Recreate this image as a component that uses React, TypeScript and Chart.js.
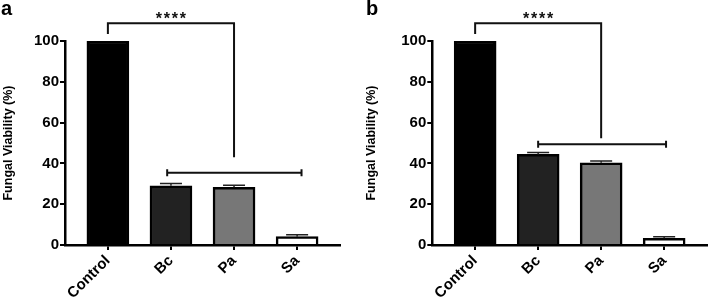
import React, { useEffect, useRef } from "react";
import { Chart, registerables } from "chart.js";
Chart.register(...registerables);

const categories = ["Control", "Bc", "Pa", "Sa"];
const yTickValues = [0, 20, 40, 60, 80, 100];
const viabilityA = [100, 29.0, 28.3, 4.1];
const errorA = [0, 1.2, 1.0, 0.9];
const viabilityB = [100, 44.4, 40.3, 3.3];
const errorB = [0, 1.0, 0.9, 0.8];
const barColors = ["#000000", "#222222", "#777777", "#ffffff"];
// significance brackets (data units): [xLeft, xRight, yTop, yLeftEnd, yRightEnd]
const upperBracketA = [0, 2, 108.7, 103.4, 43];
const upperBracketB = [0, 2, 108.7, 103.4, 52.3];
// [xLeft, xRight, y]
const lowerBracketA = [0.94, 3.07, 35.4];
const lowerBracketB = [1, 3.03, 49.4];
const significance = "****";
const yTitle = "Fungal Viability (%)";
const panelLabels = ["a", "b"];

const FONT = "'Liberation Sans', Arial, sans-serif";

type PanelProps = {
  values: number[];
  errors: number[];
  upper: number[];
  lower: number[];
  label: string;
  padLeft: number;
  axisLeft: number;
  padRight: number;
};

function Panel(p: PanelProps) {
  const ref = useRef<HTMLCanvasElement | null>(null);
  useEffect(() => {
    if (!ref.current) return;
    const overlay = {
      id: "overlay",
      afterDraw(chart: any) {
        const ctx = chart.ctx;
        const x = chart.scales.x;
        const y = chart.scales.y;
        ctx.save();
        // error bars
        ctx.strokeStyle = "#222";
        ctx.lineWidth = 1.5;
        p.values.forEach((v, i) => {
          const e = p.errors[i];
          if (!e) return;
          const cx = x.getPixelForValue(i);
          const y0 = y.getPixelForValue(v);
          const y1 = y.getPixelForValue(v + e);
          ctx.beginPath();
          ctx.moveTo(cx, y0);
          ctx.lineTo(cx, y1);
          ctx.moveTo(cx - 11, y1);
          ctx.lineTo(cx + 11, y1);
          ctx.stroke();
        });
        // upper bracket
        ctx.strokeStyle = "#111";
        ctx.lineWidth = 2;
        const [ul, ur, ut, ule, ure] = p.upper;
        ctx.beginPath();
        ctx.moveTo(x.getPixelForValue(ul), y.getPixelForValue(ule));
        ctx.lineTo(x.getPixelForValue(ul), y.getPixelForValue(ut));
        ctx.lineTo(x.getPixelForValue(ur), y.getPixelForValue(ut));
        ctx.lineTo(x.getPixelForValue(ur), y.getPixelForValue(ure));
        ctx.stroke();
        // lower bracket
        const [ll, lr, ly] = p.lower;
        const lyp = y.getPixelForValue(ly);
        ctx.beginPath();
        ctx.moveTo(x.getPixelForValue(ll), lyp);
        ctx.lineTo(x.getPixelForValue(lr), lyp);
        ctx.moveTo(x.getPixelForValue(ll), lyp - 3.5);
        ctx.lineTo(x.getPixelForValue(ll), lyp + 3.5);
        ctx.moveTo(x.getPixelForValue(lr), lyp - 3.5);
        ctx.lineTo(x.getPixelForValue(lr), lyp + 3.5);
        ctx.stroke();
        // stars
        ctx.fillStyle = "#111";
        ctx.font = `bold 16px ${FONT}`;
        ctx.textAlign = "center";
        ctx.textBaseline = "alphabetic";
        const sx = (x.getPixelForValue(ul) + x.getPixelForValue(ur)) / 2;
        const stars = significance.split("");
        const gap = 8;
        stars.forEach((s, k) => {
          ctx.fillText(s, sx + (k - (stars.length - 1) / 2) * gap, y.getPixelForValue(ut) + 1);
        });
        // panel label
        ctx.fillStyle = "#000";
        ctx.font = `bold 20px ${FONT}`;
        ctx.textAlign = "left";
        ctx.fillText(p.label, p.padLeft > 5 ? 12 : 1, 15);
        ctx.restore();
      },
    };
    const chart = new Chart(ref.current, {
      type: "bar",
      data: {
        datasets: [
          {
            data: p.values.map((v, i) => ({ x: i, y: v })),
            backgroundColor: barColors,
            borderColor: "#000",
            borderWidth: 2.5,
            barThickness: 42,
          },
        ],
      },
      options: {
        animation: false,
        responsive: false,
        events: [],
        layout: { padding: { left: p.padLeft, right: p.padRight, top: 41, bottom: 0 } },
        plugins: { legend: { display: false }, tooltip: { enabled: false } },
        scales: {
          x: {
            type: "linear",
            offset: false,
            min: -0.68,
            max: 3.68,
            afterBuildTicks(scale: any) {
              scale.ticks = categories.map((_, i) => ({ value: i }));
            },
            afterFit(scale: any) {
              scale.height = 55;
            },
            ticks: {
              autoSkip: false,
              minRotation: 45,
              maxRotation: 45,
              padding: 2,
              color: "#000",
              font: { family: FONT, weight: "bold", size: 15 },
              callback: (v: any) => categories[v] ?? "",
            },
            grid: { offset: false, drawOnChartArea: false, drawTicks: true, tickLength: 5, color: "#000", lineWidth: 2 },
            border: { display: true, color: "#000", width: 2.5 },
          },
          y: {
            min: 0,
            max: 100,
            afterBuildTicks(scale: any) {
              scale.ticks = yTickValues.map((v) => ({ value: v }));
            },
            afterFit(scale: any) {
              scale.width = p.axisLeft - p.padLeft;
            },
            ticks: {
              padding: 1,
              color: "#000",
              font: { family: FONT, weight: "bold", size: 15 },
            },
            title: {
              display: true,
              text: yTitle,
              color: "#000",
              padding: { top: 1, bottom: 0 },
              font: { family: FONT, weight: "bold", size: 12.5 },
            },
            grid: { drawOnChartArea: false, drawTicks: true, tickLength: 5, color: "#000", lineWidth: 2 },
            border: { display: true, color: "#000", width: 2.5 },
          },
        },
      },
      plugins: [overlay],
    } as any);
    return () => chart.destroy();
  }, []);
  return <canvas ref={ref} width={354} height={300} style={{ display: "block", width: 354, height: 300 }} />;
}

export default function App() {
  return (
    <div style={{ position: "fixed", left: 0, top: 0, width: 708, height: 300, display: "flex", background: "#fff" }}>
      <Panel values={viabilityA} errors={errorA} upper={upperBracketA} lower={lowerBracketA} label={panelLabels[0]} padLeft={0} axisLeft={65} padRight={14} />
      <Panel values={viabilityB} errors={errorB} upper={upperBracketB} lower={lowerBracketB} label={panelLabels[1]} padLeft={9.5} axisLeft={78.3} padRight={1} />
    </div>
  );
}
